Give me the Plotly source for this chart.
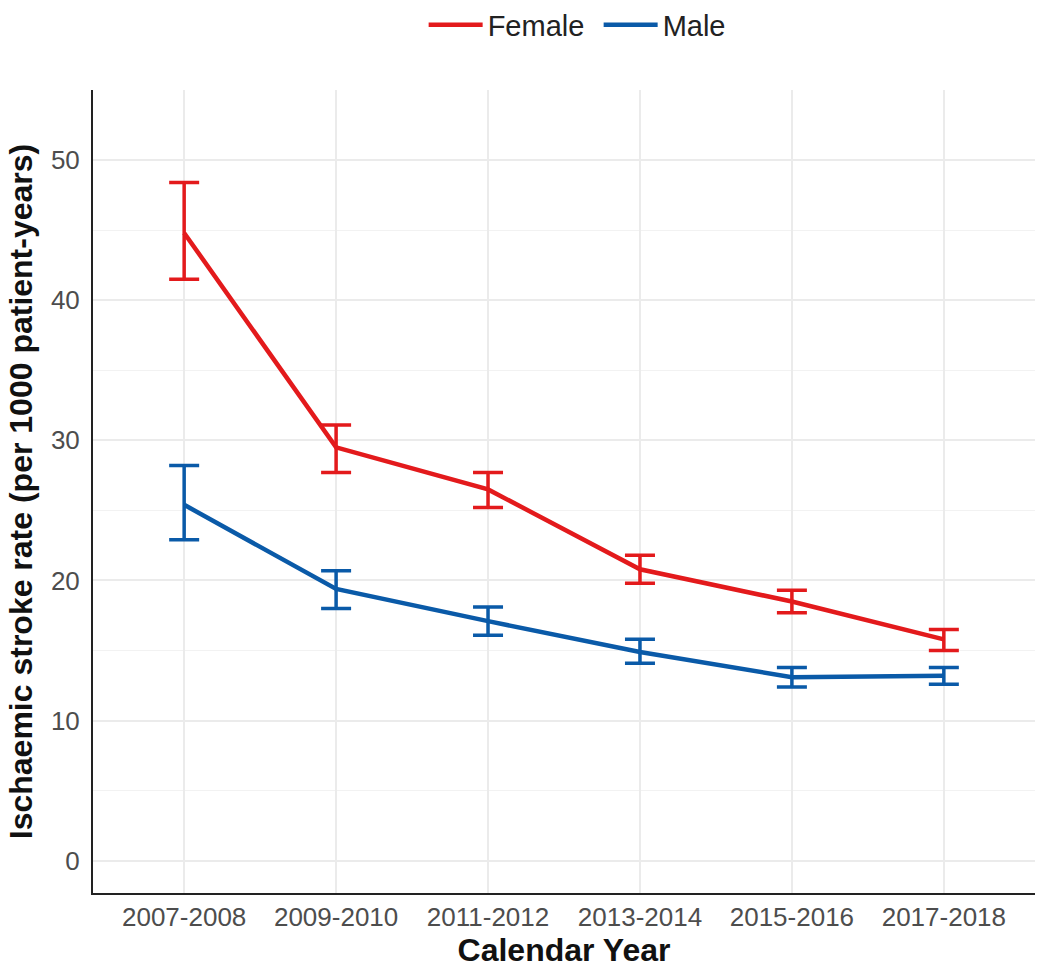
import plotly.graph_objects as go

periods = ["2007-2008", "2009-2010", "2011-2012", "2013-2014", "2015-2016", "2017-2018"]

female_rate = [44.8, 29.5, 26.5, 20.8, 18.5, 15.8]
female_lower = [41.5, 27.7, 25.2, 19.8, 17.7, 15.0]
female_upper = [48.4, 31.1, 27.7, 21.8, 19.3, 16.5]

male_rate = [25.4, 19.4, 17.1, 14.9, 13.1, 13.2]
male_lower = [22.9, 18.0, 16.1, 14.1, 12.4, 12.6]
male_upper = [28.2, 20.7, 18.1, 15.8, 13.8, 13.8]

series = [
    ("Female", female_rate, female_lower, female_upper, "#e31a1c"),
    ("Male", male_rate, male_lower, male_upper, "#0a5aa8"),
]

fig = go.Figure()
for name, rate, lo, hi, color in series:
    fig.add_trace(go.Scatter(
        x=list(range(len(periods))),
        y=rate,
        name=name,
        mode="lines",
        line=dict(color=color, width=4.5),
        error_y=dict(
            type="data",
            symmetric=False,
            array=[h - r for h, r in zip(hi, rate)],
            arrayminus=[r - l for r, l in zip(rate, lo)],
            color=color,
            thickness=3.5,
            width=15,
        ),
    ))

font_family = "Liberation Sans, Arial, sans-serif"

fig.update_layout(
    width=1038,
    height=970,
    margin=dict(l=93, r=3, t=90, b=77, autoexpand=False),
    paper_bgcolor="white",
    plot_bgcolor="white",
    font=dict(family=font_family, color="#222222"),
    legend=dict(
        orientation="h",
        x=0.351,
        xanchor="left",
        y=1.081,
        yanchor="middle",
        font=dict(size=29, color="#222222"),
        itemwidth=54,
        entrywidth=106,
    ),
    xaxis=dict(
        range=[-0.6, 5.6],
        tickmode="array",
        tickvals=list(range(len(periods))),
        ticktext=periods,
        tickfont=dict(size=26, color="#4d4d4d"),
        showgrid=True,
        gridcolor="#ebebeb",
        gridwidth=1.5,
        showline=True,
        linecolor="#222222",
        linewidth=2,
        zeroline=False,
        ticks="",
        ticklabelstandoff=0,
        title=dict(text="<b>Calendar Year</b>", font=dict(size=32, color="#111111"), standoff=4),
    ),
    yaxis=dict(
        range=[-2.3, 55],
        tickmode="array",
        tickvals=[0, 10, 20, 30, 40, 50],
        tickfont=dict(size=26, color="#4d4d4d"),
        showgrid=True,
        gridcolor="#ebebeb",
        gridwidth=1.5,
        minor=dict(dtick=5, tick0=0, showgrid=True, gridcolor="#f2f2f2", gridwidth=1),
        showline=True,
        linecolor="#222222",
        linewidth=2,
        zeroline=False,
        ticks="",
        ticklabelstandoff=6,
        title=dict(text="<b>Ischaemic stroke rate (per 1000 patient-years)</b>",
                   font=dict(size=32, color="#111111"), standoff=9),
    ),
)

fig.write_html("out.html")
